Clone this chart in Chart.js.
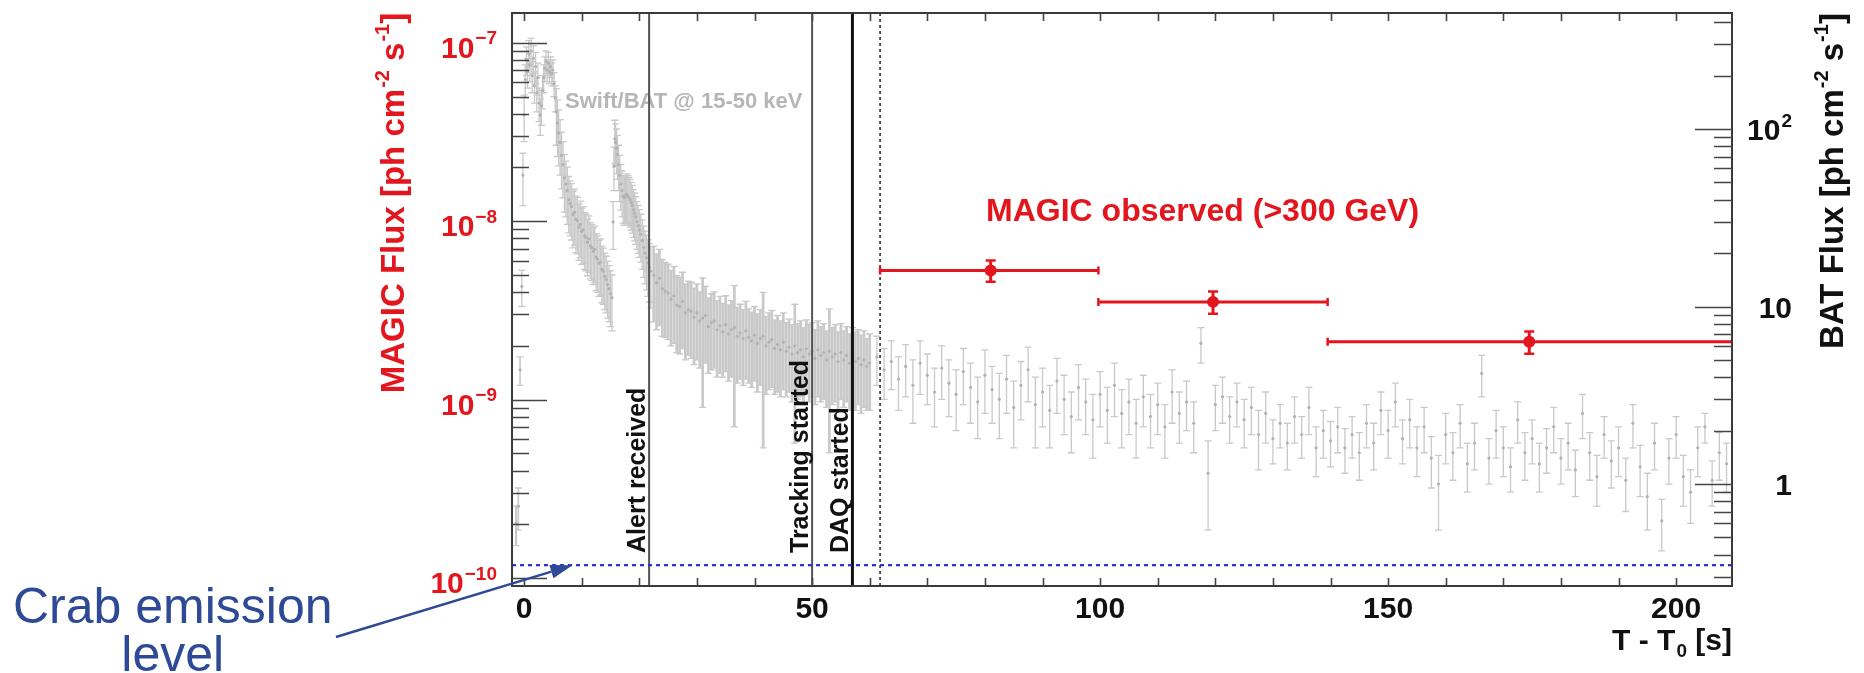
<!DOCTYPE html>
<html>
<head>
<meta charset="utf-8">
<script src="https://cdn.jsdelivr.net/npm/chart.js@4.4.1/dist/chart.umd.min.js"></script>
<style>
html,body{margin:0;padding:0;background:#ffffff;}
#wrap{width:1864px;height:673px;position:relative;}
</style>
</head>
<body>
<div id="wrap"><canvas id="c"></canvas></div>
<script>
// ---------------- DATA ----------------
// MAGIC (>300 GeV) flux points [ph cm^-2 s^-1]
const magicTime     = [81.0, 119.6, 174.5];
const magicTimeLow  = [61.8, 99.7, 139.5];
const magicTimeHigh = [99.7, 139.5, 210.0];
const magicFlux     = [5.30e-9, 3.53e-9, 2.11e-9];
const magicFluxErr  = [0.72e-9, 0.50e-9, 0.30e-9];

// Crab emission level [ph cm^-2 s^-1]
const crabFlux = 1.18e-10;

// Event markers (T - T0 [s])
const eventTime  = [21.7, 50.0, 57.0, 61.8];
const eventLabel = ['Alert received', 'Tracking started', 'DAQ started', ''];

// Swift/BAT 15-50 keV light curve [ph cm^-2 s^-1]
const batTime = [
 -1.4,-1.0,-0.7,-0.4,-0.2,0.0,0.2,0.4,0.6,0.8,1.0,1.2,1.4,1.6,1.8,2.0,2.2,2.4,2.6,2.8,3.0,3.2,3.4,3.6,3.8,4.0,4.2,4.4,4.6,4.8,5.0,5.2,5.4,
 5.6,5.8,6.0,6.25,6.5,6.75,7.0,7.25,7.5,7.75,8.0,8.25,8.5,8.75,9.0,9.25,9.5,9.75,10.0,10.25,10.5,10.75,11.0,11.25,11.5,11.75,12.0,12.25,12.5,12.75,13.0,13.25,13.5,13.75,14.0,14.25,14.5,14.75,15.0,15.25,
 15.45,15.6,15.75,15.9,16.05,16.2,16.4,16.6,16.8,17.0,17.2,17.4,17.6,17.8,18.0,18.2,18.4,18.6,18.8,19.0,19.2,19.4,19.6,19.8,20.0,20.25,20.5,20.75,21.0,21.25,21.5,21.75,22.0,
 22.5,23,23.5,24,24.5,25,25.5,26,26.5,27,27.5,28,28.5,29,29.5,30,30.5,31,31.5,32,32.5,33,33.5,34,34.5,35,35.5,36,36.5,37,37.5,38,38.5,39,39.5,40,40.5,41,41.5,42,42.5,43,43.5,44,44.5,45,45.5,46,46.5,47,47.5,48,48.5,49,49.5,50,50.5,51,51.5,52,52.5,53,53.5,54,54.5,55,55.5,56,56.5,57,57.5,58,58.5,59,59.5,60,
 61.25,62.5,63.75,65,66.25,67.5,68.75,70,71.25,72.5,73.75,75,76.25,77.5,78.75,80,81.25,82.5,83.75,85,86.25,87.5,88.75,90,91.25,92.5,93.75,95,96.25,97.5,98.75,100,
 101.25,102.5,103.75,105,106.25,107.5,108.75,110,111.25,112.5,113.75,115,116.25,117.5,118.75,120,121.25,122.5,123.75,125,126.25,127.5,128.75,130,131.25,132.5,133.75,135,136.25,137.5,138.75,140,
 141.25,142.5,143.75,145,146.25,147.5,148.75,150,151.25,152.5,153.75,155,156.25,157.5,158.75,160,161.25,162.5,163.75,165,166.25,167.5,168.75,170,171.25,172.5,173.75,175,176.25,177.5,178.75,180,
 181.25,182.5,183.75,185,186.25,187.5,188.75,190,191.25,192.5,193.75,195,196.25,197.5,198.75,200,201.25,202.5,203.75,205,206.25,207.5,208.75
];
const batFlux = [
 0.6,0.75,4.4,13,55,120,190,245,210,265,230,275,200,250,175,225,160,195,140,120,135,165,195,220,240,215,235,210,225,205,215,180,150,
 125,108,95,84,71,63,53,49,45,40,38,36.5,33,34,31,30.5,28,29,26.5,27,25,24.5,23,24,22,21.5,20.5,21,19,18.5,17.5,17.8,16.2,15.8,14.8,14.2,13.3,12.6,11.8,11.2,
 30,62,88,84,78,72,63,55,49,45,42,41,42,43,42,41,40,38.5,37,35,33.5,32,30,28.5,27,25.5,23.5,21.5,20,18.8,17.6,16.6,15.8,
 15.0,13.6,14.4,12.6,12.2,11.9,11.0,11.5,10.2,10.0,
 10.7,9.2,9.6,9.4,8.7,9.2,8.3,8.6,8.9,7.7,
 8.1,8.3,7.4,7.8,7.2,7.9,7.0,7.4,7.6,6.8,
 7.1,6.6,7.3,6.7,6.4,6.9,6.2,6.6,6.8,6.0,
 6.3,6.5,5.8,6.1,5.7,6.3,5.6,5.9,5.4,6.0,
 5.5,5.7,5.2,5.8,5.4,5.6,5.1,5.7,5.3,5.5,
 5.0,5.6,5.2,5.4,4.9,5.5,5.0,5.3,4.8,5.2,
 4.9,5.1,4.7,5.0,4.6,4.8,
 5.2,4.4,4.9,3.9,4.6,3.6,4.8,4.1,
 3.3,4.5,3.7,3.2,4.3,3.5,2.9,4.1,
 3.4,3.0,3.9,2.7,3.6,4.4,2.8,3.3,
 2.6,3.8,3.0,2.4,3.5,2.9,2.3,3.2,
 2.6,3.6,2.5,2.9,2.2,3.1,2.4,2.8,
 2.1,3.3,2.5,2.9,2.2,6.2,1.15,2.8,
 3.1,2.4,2.9,2.3,2.7,1.9,2.5,1.8,
 2.2,1.7,2.4,1.9,2.7,1.6,2.0,1.75,
 2.1,1.6,1.9,1.5,2.2,1.7,2.6,2.0,
 2.9,1.8,2.3,1.6,2.1,1.4,1.0,1.9,
 1.5,2.2,1.3,1.7,4.2,1.4,2.0,1.6,
 1.25,2.3,1.5,1.8,1.3,1.6,2.1,1.4,
 1.7,1.2,2.5,1.5,1.1,1.9,1.35,1.6,
 1.05,2.2,1.25,0.85,1.7,0.62,1.4,1.9,
 1.1,0.9,1.6,2.1,1.05,1.5,1.3
];
const batFluxErr = [
 0.15,0.2,0.8,3,18,35,40,45,40,50,45,50,40,45,35,45,35,40,30,28,30,35,35,35,35,30,35,30,30,30,30,28,25,
 44,38,33,29,25,22,19,17,16,14,13,12.8,11.6,11.9,10.9,10.7,9.8,10.2,9.3,9.5,8.8,8.6,8.1,8.4,7.7,7.5,7.2,7.4,6.7,6.5,6.1,6.2,5.7,5.5,5.2,5.0,4.7,4.4,4.1,3.9,
 9,17,24,23,22,20,18,16,14,13,12.5,12.3,12.6,12.9,12.6,12.3,12,11.6,11.1,10.5,10.1,9.6,9,8.6,8.1,7.7,7.3,6.9,6.6,6.4,6.2,6.0,6.0,
 6.8,6.2,6.6,5.8,5.5,5.4,5.0,5.3,4.7,4.6,
 4.9,4.2,4.3,4.3,4.0,4.2,3.8,5.9,4.1,3.5,
 3.7,3.8,3.4,3.6,3.2,3.6,3.2,3.4,5.5,3.1,
 3.2,3.0,3.4,3.0,2.9,3.1,2.9,3.0,5.2,2.8,
 2.9,3.0,2.6,2.8,2.6,2.9,2.5,2.6,2.5,4.3,
 2.5,2.6,2.4,2.6,2.5,2.5,2.3,2.6,2.4,2.5,
 2.3,4.1,2.4,2.5,2.3,2.5,2.3,2.4,2.2,2.4,
 2.3,2.3,2.2,2.3,2.0,2.2,
 1.6,1.4,1.5,1.3,1.5,1.4,1.6,1.3,
 1.2,1.5,1.3,1.2,1.5,1.3,1.1,1.6,
 1.2,1.2,1.4,1.1,1.3,1.5,1.2,1.2,
 1.0,1.3,1.1,0.9,1.2,1.0,0.9,1.1,
 0.9,1.2,0.9,1.0,0.8,1.0,0.8,0.9,
 0.7,1.1,0.8,0.9,0.7,1.4,0.6,0.8,
 0.9,0.7,0.8,0.7,0.8,0.7,0.8,0.5,
 0.6,0.5,0.7,0.5,0.8,0.5,0.6,0.5,
 0.6,0.45,0.5,0.45,0.6,0.5,0.7,0.6,
 0.8,0.5,0.7,0.5,0.6,0.45,0.45,0.6,
 0.45,0.6,0.4,0.5,1.1,0.4,0.6,0.5,
 0.35,0.6,0.45,0.5,0.4,0.45,0.6,0.4,
 0.5,0.35,0.7,0.45,0.35,0.5,0.4,0.5,
 0.35,0.6,0.4,0.3,0.5,0.2,0.4,0.5,
 0.35,0.3,0.5,0.4,0.3,0.45,0.4
];

// Axis ranges and tick labels
const timeRange   = [-2.1, 209.7];
const magicRange  = [9.02e-11, 1.469e-7];
const batRange    = [0.2664, 450.3];
const xTickValues = [0, 50, 100, 150, 200];
const xTickLabels = ['0', '50', '100', '150', '200'];
const magicTickValues = [1e-10, 1e-9, 1e-8, 1e-7];
const magicTickExps   = ['\u221210', '\u22129', '\u22128', '\u22127'];
const batTickValues = [1, 10, 100];
const batTickBases  = ['1', '10', '10'];
const batTickExps   = ['', '', '2'];

// ---------------- STYLE / DRAWING ----------------
const FONT = '"Liberation Sans", Helvetica, Arial, sans-serif';
const RED = '#e3161e';
const GRAY_BAR = '#c9c9c9';
const GRAY_PT = '#b2b2b2';

function richWidth(ctx, parts, size) {
  let w = 0;
  for (const p of parts) {
    const s = p.s ? Math.round(size * 0.62) : size;
    ctx.font = 'bold ' + s + 'px ' + FONT;
    w += ctx.measureText(p.t).width + (p.s ? 1 : 0);
  }
  return w;
}
function drawRich(ctx, parts, x, y, size, color, align) {
  const w = richWidth(ctx, parts, size);
  let cx = align === 'right' ? x - w : (align === 'center' ? x - w / 2 : x);
  ctx.fillStyle = color;
  ctx.textAlign = 'left';
  ctx.textBaseline = 'alphabetic';
  for (const p of parts) {
    const s = p.s ? Math.round(size * 0.62) : size;
    ctx.font = 'bold ' + s + 'px ' + FONT;
    let yy = y;
    if (p.s === 1) yy = y - size * 0.45;
    if (p.s === -1) yy = y + size * 0.24;
    ctx.fillText(p.t, cx + (p.s ? 1 : 0), yy);
    cx += ctx.measureText(p.t).width + (p.s ? 1 : 0);
  }
}

const rootPlugin = {
  id: 'rootStyle',
  beforeDatasetsDraw(chart) {
    const {ctx, chartArea: a} = chart;
    const x = chart.scales.x, y2 = chart.scales.y2;
    ctx.save();
    ctx.beginPath();
    ctx.rect(a.left, a.top, a.right - a.left, a.bottom - a.top);
    ctx.clip();
    // Swift/BAT label
    ctx.font = 'bold 22px ' + FONT;
    ctx.fillStyle = '#b6b6b6';
    ctx.textAlign = 'left';
    ctx.textBaseline = 'alphabetic';
    ctx.fillText('Swift/BAT @ 15-50 keV', x.getPixelForValue(7.1), 108);
    // BAT error bars (bar width follows local bin spacing)
    ctx.strokeStyle = GRAY_BAR;
    const n = batTime.length;
    for (let i = 0; i < n; i++) {
      const pxf = x.getPixelForValue(batTime[i]);
      const dl = i > 0 ? pxf - x.getPixelForValue(batTime[i - 1]) : 99;
      const dr = i < n - 1 ? x.getPixelForValue(batTime[i + 1]) - pxf : 99;
      const d = Math.min(dl, dr);
      ctx.lineWidth = d < 4 ? Math.max(1.3, d * 0.95) : 1.3;
      const px = pxf;
      const lo = Math.max(batFlux[i] - batFluxErr[i], batRange[0] * 0.5);
      const pLo = y2.getPixelForValue(lo);
      const pHi = y2.getPixelForValue(batFlux[i] + batFluxErr[i]);
      ctx.beginPath();
      ctx.moveTo(px, pLo); ctx.lineTo(px, pHi);
      ctx.stroke();
      ctx.lineWidth = 1.3;
      ctx.beginPath();
      ctx.moveTo(px - 3.5, pLo); ctx.lineTo(px + 3.5, pLo);
      ctx.moveTo(px - 3.5, pHi); ctx.lineTo(px + 3.5, pHi);
      ctx.stroke();
    }
    ctx.restore();
  },
  afterDatasetsDraw(chart) {
    const {ctx, chartArea: a} = chart;
    const x = chart.scales.x, y = chart.scales.y;
    ctx.save();
    ctx.beginPath();
    ctx.rect(a.left, a.top, a.right - a.left + 1, a.bottom - a.top);
    ctx.clip();
    ctx.strokeStyle = RED;
    for (let i = 0; i < magicTime.length; i++) {
      const pl = x.getPixelForValue(magicTimeLow[i]);
      const pr = x.getPixelForValue(magicTimeHigh[i]);
      const pc = x.getPixelForValue(magicTime[i]);
      const py = y.getPixelForValue(magicFlux[i]);
      const pHi = y.getPixelForValue(magicFlux[i] + magicFluxErr[i]);
      const pLo = y.getPixelForValue(magicFlux[i] - magicFluxErr[i]);
      ctx.lineWidth = 3;
      ctx.beginPath();
      ctx.moveTo(pl, py); ctx.lineTo(pr, py);
      ctx.moveTo(pc, pHi); ctx.lineTo(pc, pLo);
      ctx.stroke();
      ctx.lineWidth = 2.5;
      ctx.beginPath();
      ctx.moveTo(pl, py - 4); ctx.lineTo(pl, py + 4);
      ctx.moveTo(pr, py - 4); ctx.lineTo(pr, py + 4);
      ctx.moveTo(pc - 5, pHi); ctx.lineTo(pc + 5, pHi);
      ctx.moveTo(pc - 5, pLo); ctx.lineTo(pc + 5, pLo);
      ctx.stroke();
    }
    ctx.restore();
  },
  afterDraw(chart) {
    const {ctx, chartArea: a} = chart;
    const x = chart.scales.x, y = chart.scales.y, y2 = chart.scales.y2;
    ctx.save();
    // frame
    ctx.strokeStyle = '#3a3a3a';
    ctx.lineWidth = 2;
    ctx.strokeRect(a.left, a.top, a.right - a.left, a.bottom - a.top);
    // ticks
    ctx.strokeStyle = '#444';
    ctx.lineWidth = 1.6;
    ctx.beginPath();
    for (let v = 0; v <= 200; v += 10) {
      const px = Math.round(x.getPixelForValue(v)) + 0.5;
      ctx.moveTo(px, a.bottom); ctx.lineTo(px, a.bottom - 8);
      ctx.moveTo(px, a.top); ctx.lineTo(px, a.top + 8);
    }
    for (let d = -11; d <= -7; d++) {
      for (let k = 1; k <= 9; k++) {
        const v = k * Math.pow(10, d);
        if (v < magicRange[0] || v > magicRange[1]) continue;
        const py = Math.round(y.getPixelForValue(v)) + 0.5;
        ctx.moveTo(a.left, py); ctx.lineTo(a.left + (k === 1 ? 35 : 17), py);
      }
    }
    for (let d = -1; d <= 2; d++) {
      for (let k = 1; k <= 9; k++) {
        const v = k * Math.pow(10, d);
        if (v < batRange[0] || v > batRange[1]) continue;
        const py = Math.round(y2.getPixelForValue(v)) + 0.5;
        ctx.moveTo(a.right, py); ctx.lineTo(a.right - (k === 1 ? 37 : 18), py);
      }
    }
    ctx.stroke();

    // x tick labels
    ctx.fillStyle = '#111';
    ctx.font = 'bold 30px ' + FONT;
    ctx.textAlign = 'center';
    ctx.textBaseline = 'alphabetic';
    xTickValues.forEach((v, i) => ctx.fillText(xTickLabels[i], x.getPixelForValue(v), a.bottom + 32));
    // left (MAGIC) tick labels
    magicTickValues.forEach((v, i) => {
      const py = y.getPixelForValue(v);
      drawRich(ctx, [{t: '10', s: 0}, {t: magicTickExps[i], s: 1}], a.left - 15, py + 15, 30, RED, 'right');
    });
    // right (BAT) tick labels
    batTickValues.forEach((v, i) => {
      const py = y2.getPixelForValue(v);
      const parts = [{t: batTickBases[i], s: 0}];
      if (batTickExps[i]) parts.push({t: batTickExps[i], s: 1});
      drawRich(ctx, parts, a.right + 60, py + 11, 30, '#111', 'right');
    });

    // axis titles
    ctx.save();
    ctx.translate(392, 203);
    ctx.rotate(-Math.PI / 2);
    drawRich(ctx, [{t: 'MAGIC Flux [ph cm', s: 0}, {t: '-2', s: 1}, {t: ' s', s: 0}, {t: '-1', s: 1}, {t: ']', s: 0}], 0, 12, 33, RED, 'center');
    ctx.restore();
    ctx.save();
    ctx.translate(1831, 181);
    ctx.rotate(-Math.PI / 2);
    drawRich(ctx, [{t: 'BAT Flux [ph cm', s: 0}, {t: '-2', s: 1}, {t: ' s', s: 0}, {t: '-1', s: 1}, {t: ']', s: 0}], 0, 12, 33, '#111', 'center');
    ctx.restore();
    drawRich(ctx, [{t: 'T - T', s: 0}, {t: '0', s: -1}, {t: ' [s]', s: 0}], a.right, a.bottom + 64, 30, '#111', 'right');

    // event labels
    ctx.fillStyle = '#111';
    ctx.font = 'bold 25px ' + FONT;
    eventTime.forEach((t, i) => {
      if (!eventLabel[i]) return;
      const px = x.getPixelForValue(t);
      ctx.save();
      ctx.translate(px - 4, a.bottom - 33);
      ctx.rotate(-Math.PI / 2);
      ctx.textAlign = 'left';
      ctx.textBaseline = 'alphabetic';
      ctx.fillText(eventLabel[i], 0, 0);
      ctx.restore();
    });

    // MAGIC label
    ctx.fillStyle = RED;
    ctx.font = 'bold 32px ' + FONT;
    ctx.textAlign = 'left';
    ctx.fillText('MAGIC observed (>300 GeV)', x.getPixelForValue(80.2), 221);

    // Crab annotation
    const crabColor = '#2e4a96';
    ctx.fillStyle = crabColor;
    ctx.font = '50px ' + FONT;
    ctx.textAlign = 'left';
    ctx.fillText('Crab emission', 13, 623);
    const cw = ctx.measureText('Crab emission').width;
    ctx.textAlign = 'center';
    ctx.fillText('level', 13 + cw / 2, 671);
    // arrow
    const tipX = x.getPixelForValue(8.4), tipY = y.getPixelForValue(crabFlux);
    const sx = 336, sy = 637;
    const ang = Math.atan2(tipY - sy, tipX - sx);
    const hl = 22, hw = 7;
    const bx = tipX - hl * Math.cos(ang), by = tipY - hl * Math.sin(ang);
    ctx.strokeStyle = crabColor;
    ctx.lineWidth = 2.5;
    ctx.beginPath();
    ctx.moveTo(sx, sy); ctx.lineTo(bx, by);
    ctx.stroke();
    ctx.beginPath();
    ctx.moveTo(tipX, tipY);
    ctx.lineTo(bx + hw * Math.sin(ang), by - hw * Math.cos(ang));
    ctx.lineTo(bx - hw * Math.sin(ang), by + hw * Math.cos(ang));
    ctx.closePath();
    ctx.fill();
    ctx.restore();
  }
};

const eventStyles = [
  {color: '#555', width: 2, dash: []},
  {color: '#555', width: 2, dash: []},
  {color: '#111', width: 3, dash: []},
  {color: '#222', width: 1.5, dash: [3, 3]}
];

const datasets = [];
datasets.push({
  label: 'MAGIC',
  data: magicTime.map((t, i) => ({x: t, y: magicFlux[i]})),
  yAxisID: 'y',
  pointRadius: 6,
  pointBackgroundColor: RED,
  pointBorderWidth: 0,
  showLine: false
});
datasets.push({
  label: 'Crab',
  data: [{x: timeRange[0], y: crabFlux}, {x: timeRange[1], y: crabFlux}],
  yAxisID: 'y',
  showLine: true,
  borderColor: '#2a2ad0',
  borderWidth: 2.2,
  borderDash: [4, 4],
  pointRadius: 0
});
eventTime.forEach((t, i) => {
  datasets.push({
    label: eventLabel[i] || 'obs',
    data: [{x: t, y: magicRange[0]}, {x: t, y: magicRange[1]}],
    yAxisID: 'y',
    showLine: true,
    borderColor: eventStyles[i].color,
    borderWidth: eventStyles[i].width,
    borderDash: eventStyles[i].dash,
    pointRadius: 0
  });
});
datasets.push({
  label: 'Swift/BAT',
  data: batTime.map((t, i) => ({x: t, y: batFlux[i]})),
  yAxisID: 'y2',
  pointRadius: 1.6,
  pointBackgroundColor: GRAY_PT,
  pointBorderWidth: 0,
  showLine: false
});

new Chart(document.getElementById('c'), {
  type: 'scatter',
  data: {datasets},
  options: {
    responsive: true,
    maintainAspectRatio: false,
    animation: false,
    events: [],
    layout: {padding: {top: 13, left: 0, right: 0, bottom: 0}},
    plugins: {legend: {display: false}, tooltip: {enabled: false}},
    scales: {
      x: {
        type: 'linear', min: timeRange[0], max: timeRange[1], bounds: 'data',
        grid: {display: false}, border: {display: false}, ticks: {display: false},
        afterFit: s => { s.height = 87; }
      },
      y: {
        type: 'logarithmic', position: 'left', min: magicRange[0], max: magicRange[1], bounds: 'data',
        grid: {display: false}, border: {display: false}, ticks: {display: false},
        afterFit: s => { s.width = 512; }
      },
      y2: {
        type: 'logarithmic', position: 'right', min: batRange[0], max: batRange[1], bounds: 'data',
        grid: {display: false}, border: {display: false}, ticks: {display: false},
        afterFit: s => { s.width = 132; }
      }
    }
  },
  plugins: [rootPlugin]
});
</script>
</body>
</html>
